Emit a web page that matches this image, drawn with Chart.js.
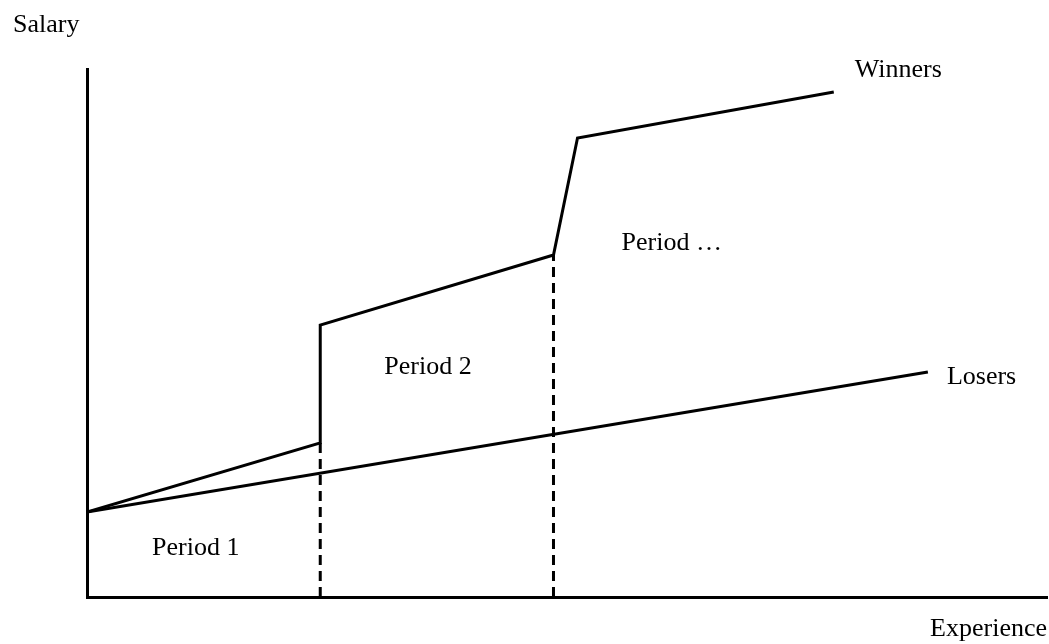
<!DOCTYPE html>
<html>
<head>
<meta charset="utf-8">
<script src="https://cdn.jsdelivr.net/npm/chart.js@4"></script>
<style>
  html, body { margin: 0; padding: 0; background: #fff; }
  #chart { display: block; }
</style>
</head>
<body>
<canvas id="chart" width="1049" height="644"></canvas>
<script>
// experience (x) and salary (y) in plain units
const winnersX = [0, 233, 233, 466, 490, 746];
const winnersY = [85, 154, 272, 342, 459, 505];
const losersX = [0, 840];
const losersY = [85, 225];
const period1EndX = [233, 233];
const period1EndY = [0, 154];
const period2EndX = [466, 466];
const period2EndY = [0, 342];

const xAxisTitle = 'Experience';
const yAxisTitle = 'Salary';
const seriesNames = ['Winners', 'Losers'];
const periodLabels = ['Period 1', 'Period 2', 'Period …'];
const periodLabelX = [65, 297, 534];
const periodLabelY = [49, 230, 354];

function pts(xs, ys) {
  return xs.map((x, i) => ({ x: x, y: ys[i] }));
}

const FONT = '26px "Liberation Serif", "Times New Roman", serif';

const labelPlugin = {
  id: 'labels',
  afterDraw(chart) {
    const ctx = chart.ctx;
    const xs = chart.scales.x, ys = chart.scales.y;
    ctx.save();
    ctx.font = FONT;
    ctx.fillStyle = '#000';
    ctx.textBaseline = 'middle';
    ctx.textAlign = 'left';
    ctx.fillText(yAxisTitle, 13, 25);
    // series names next to their line ends
    let wl = winnersX.length - 1;
    ctx.fillText(seriesNames[0], xs.getPixelForValue(winnersX[wl]) + 21, ys.getPixelForValue(winnersY[wl]) - 22);
    let ll = losersX.length - 1;
    ctx.fillText(seriesNames[1], xs.getPixelForValue(losersX[ll]) + 19, ys.getPixelForValue(losersY[ll]) + 5);
    periodLabels.forEach((t, i) => {
      ctx.fillText(t, xs.getPixelForValue(periodLabelX[i]), ys.getPixelForValue(periodLabelY[i]));
    });
    ctx.textAlign = 'right';
    ctx.fillText(xAxisTitle, 1047, 629);
    ctx.restore();
  }
};

const lineStyle = { borderColor: '#000', borderWidth: 3, pointRadius: 0, fill: false, tension: 0 };

new Chart(document.getElementById('chart'), {
  type: 'line',
  data: {
    datasets: [
      Object.assign({ label: seriesNames[0], data: pts(winnersX, winnersY) }, lineStyle),
      Object.assign({ label: seriesNames[1], data: pts(losersX, losersY) }, lineStyle),
      Object.assign({ label: 'p1', data: pts(period1EndX, period1EndY), borderDash: [10, 6] }, lineStyle),
      Object.assign({ label: 'p2', data: pts(period2EndX, period2EndY), borderDash: [10, 6] }, lineStyle)
    ]
  },
  options: {
    responsive: false,
    animation: false,
    layout: { padding: { left: 87, top: 69, right: 2, bottom: 47 } },
    plugins: { legend: { display: false }, tooltip: { enabled: false } },
    scales: {
      x: {
        type: 'linear', min: 0, max: 959,
        grid: { display: false, drawTicks: false },
        ticks: { display: false },
        border: { display: true, color: '#000', width: 3 }
      },
      y: {
        type: 'linear', min: 0, max: 528,
        grid: { display: false, drawTicks: false },
        ticks: { display: false },
        border: { display: true, color: '#000', width: 3 }
      }
    }
  },
  plugins: [labelPlugin]
});
</script>
</body>
</html>
